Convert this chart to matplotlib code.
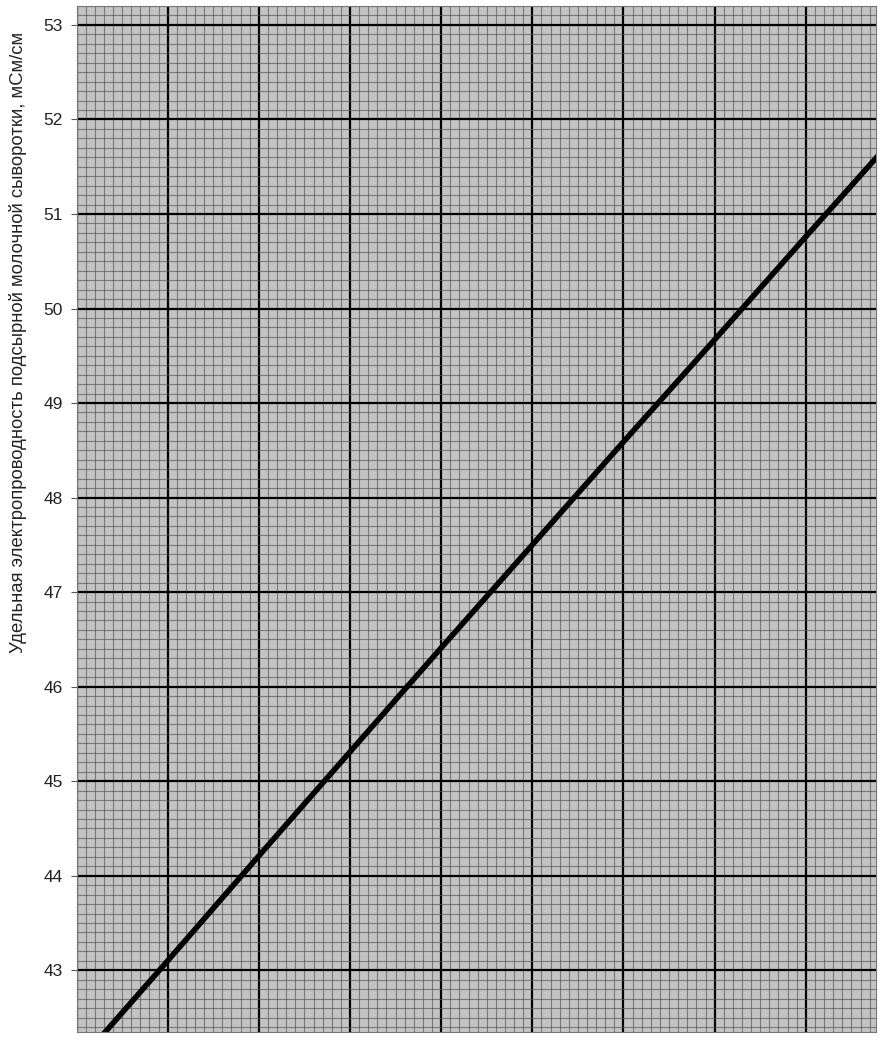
import numpy as np
import matplotlib.pyplot as plt
from matplotlib.ticker import MultipleLocator, NullFormatter

plt.rcParams["font.family"] = ["Liberation Sans", "DejaVu Sans"]

# line (x in major cells from the left edge)
x_cells = [0, 1, 2, 3, 4, 5, 6, 7, 8, 9]
conductivity = [42.0, 43.1, 44.21, 45.31, 46.41, 47.5, 48.59, 49.67, 50.76, 51.84]

y_ticks = [43, 44, 45, 46, 47, 48, 49, 50, 51, 52, 53]
y_label = "Удельная электропроводность подсырной молочной сыворотки, мСм/см"

fig = plt.figure(figsize=(8.81, 10.37), dpi=100)
ax = fig.add_axes([76.5 / 881, 5.3 / 1037, (876 - 76.5) / 881, (1031.7 - 6) / 1037])

ax.set_facecolor("#c3c3c3")
ax.set_xlim(0, 8.77)
ax.set_ylim(42.35, 53.2)

ax.xaxis.set_major_locator(MultipleLocator(1))
ax.xaxis.set_minor_locator(MultipleLocator(0.1))
ax.yaxis.set_major_locator(MultipleLocator(1))
ax.yaxis.set_minor_locator(MultipleLocator(0.1))
ax.set_yticks(y_ticks)
ax.xaxis.set_major_formatter(NullFormatter())

# graph paper grid
ax.grid(which="minor", color="#5a5a5a", linewidth=0.8, alpha=0.7)
ax.grid(which="major", color="black", linewidth=1.6)
ax.set_axisbelow(True)

ax.plot(x_cells, conductivity, color="black", linewidth=4, solid_capstyle="butt", zorder=3)

ax.tick_params(which="minor", length=0)
ax.tick_params(axis="y", which="major", length=4, width=0.8, color="#555555",
               labelsize=12.5, pad=6, labelcolor="#222222")
ax.tick_params(axis="x", which="major", length=0)
for s in ax.spines.values():
    s.set_color("#777777")
    s.set_linewidth(0.8)

ax.set_ylabel(y_label, fontsize=13.3, color="#222222")
ax.yaxis.set_label_coords(-0.062, 0.672)

fig.savefig("out.png", dpi=100)
